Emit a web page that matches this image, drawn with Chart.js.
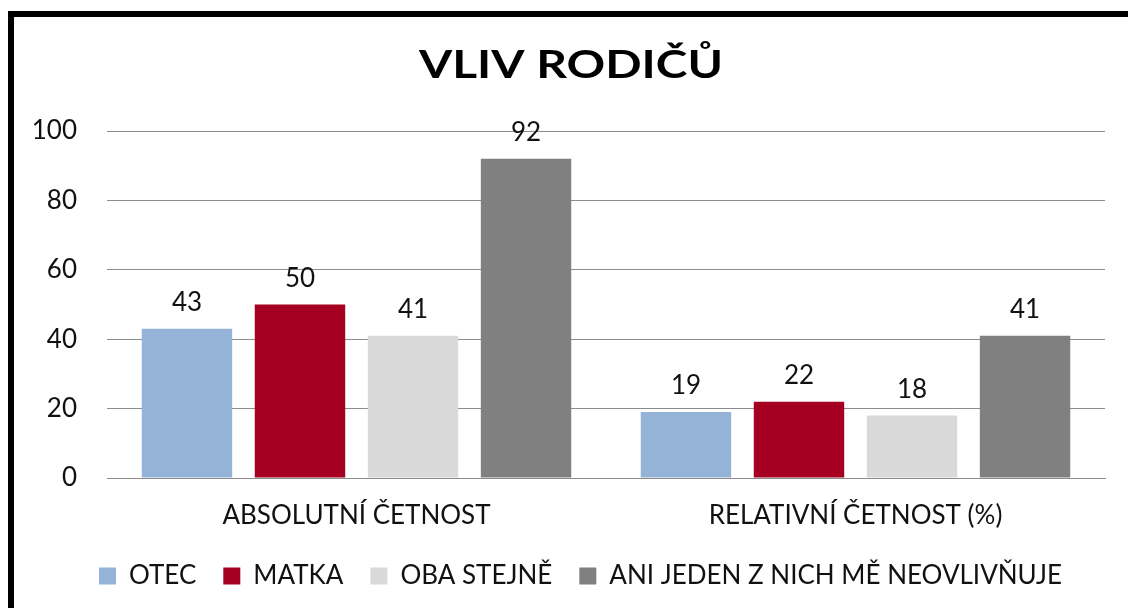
<!DOCTYPE html>
<html>
<head>
<meta charset="utf-8">
<script src="https://cdn.jsdelivr.net/npm/chart.js@4/dist/chart.umd.min.js"></script>
<style>
  html, body { margin: 0; padding: 0; background: #fff; }
  #wrap { position: relative; width: 1128px; height: 608px; }
  canvas { display: block; }
</style>
</head>
<body>
<div id="wrap"><canvas id="c" width="1128" height="608"></canvas></div>
<script>
const categories = ['ABSOLUTNÍ ČETNOST', 'RELATIVNÍ ČETNOST (%)'];
const seriesNames = ['OTEC', 'MATKA', 'OBA STEJNĚ', 'ANI JEDEN Z NICH MĚ NEOVLIVŇUJE'];
const otec = [43, 19];
const matka = [50, 22];
const obaStejne = [41, 18];
const aniJeden = [92, 41];
const yTicks = [0, 20, 40, 60, 80, 100];
const seriesColors = ['#95B3D7', '#A50021', '#D9D9D9', '#808080'];
const titleText = 'VLIV RODIČŮ';

const FONT = 'Lato, "Liberation Sans", sans-serif';
const FS = 26;

const framePlugin = {
  id: 'frame',
  beforeDraw(chart) {
    const ctx = chart.ctx;
    ctx.save();
    ctx.fillStyle = '#fff';
    ctx.fillRect(0, 0, chart.width, chart.height);
    ctx.fillStyle = '#000';
    ctx.fillRect(8, 11, chart.width - 8, 6);
    ctx.fillRect(8, 11, 6, chart.height - 11);
    ctx.restore();
  }
};

const legendShift = {
  id: 'legendShift',
  afterLayout(chart) {
    if (chart.legend) {
      chart.legend.left += 28;
      chart.legend.right += 28;
    }
  }
};

const titlePlugin = {
  id: 'stretchedTitle',
  afterDraw(chart) {
    const ctx = chart.ctx;
    ctx.save();
    ctx.font = 'bold 38px ' + FONT;
    ctx.fillStyle = '#000';
    ctx.textAlign = 'center';
    ctx.textBaseline = 'alphabetic';
    ctx.translate(571, 78);
    ctx.scale(1.26, 1);
    ctx.fillText(titleText, 0, 0);
    ctx.restore();
  }
};

const valueLabels = {
  id: 'valueLabels',
  afterDatasetsDraw(chart) {
    const ctx = chart.ctx;
    ctx.save();
    ctx.font = FS + 'px ' + FONT;
    ctx.fillStyle = '#111';
    ctx.textAlign = 'center';
    ctx.textBaseline = 'alphabetic';
    chart.data.datasets.forEach((ds, i) => {
      const meta = chart.getDatasetMeta(i);
      meta.data.forEach((bar, j) => {
        ctx.fillText(String(ds.data[j]), bar.x, bar.y - 18);
      });
    });
    ctx.restore();
  }
};

const dataSets = [otec, matka, obaStejne, aniJeden];

new Chart(document.getElementById('c'), {
  type: 'bar',
  data: {
    labels: categories,
    datasets: dataSets.map((d, i) => ({
      label: seriesNames[i],
      data: d,
      backgroundColor: seriesColors[i],
      borderWidth: 0,
      categoryPercentage: 0.906,
      barPercentage: 0.8
    }))
  },
  options: {
    responsive: false,
    animation: false,
    devicePixelRatio: 1,
    layout: { padding: { left: 0, right: 23, top: 131, bottom: 9 } },
    plugins: {
      title: { display: false },
      legend: {
        display: true,
        position: 'bottom',
        labels: {
          color: '#111',
          boxWidth: 17,
          boxHeight: 17,
          padding: 27,
          font: { family: FONT, size: FS }
        }
      },
      tooltip: { enabled: false }
    },
    scales: {
      x: {
        grid: { display: false, drawTicks: false },
        border: { display: true, color: '#8c8c8c', width: 1 },
        ticks: { color: '#111', font: { family: FONT, size: FS }, padding: 22 },
        afterFit(scale) { scale.height = 58; }
      },
      y: {
        min: 0,
        max: 100,
        afterBuildTicks(scale) { scale.ticks = yTicks.map(v => ({ value: v })); },
        grid: { color: '#8c8c8c', lineWidth: 1, drawTicks: false },
        border: { display: false },
        ticks: { color: '#111', font: { family: FONT, size: FS }, padding: 30 },
        afterFit(scale) { scale.width = 107; }
      }
    }
  },
  plugins: [framePlugin, legendShift, valueLabels, titlePlugin]
});
</script>
</body>
</html>
